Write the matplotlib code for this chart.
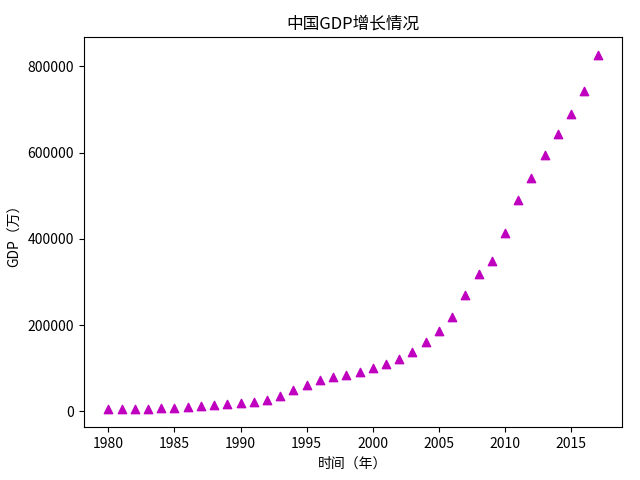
import matplotlib
matplotlib.use("Agg")
import matplotlib.pyplot as plt

plt.rcParams['font.family'] = ['Noto Sans CJK SC', 'DejaVu Sans']
plt.rcParams['axes.unicode_minus'] = False

years = list(range(1980, 2018))
gdp = [
    4587.6, 4935.8, 5373.4, 6020.9, 7278.5, 9098.9, 10376.2, 12174.6,
    15180.4, 17179.7, 18872.9, 22005.6, 27194.5, 35673.2, 48637.5, 61339.9,
    71813.6, 79715.0, 85195.5, 90564.4, 100280.1, 110863.1, 121717.4, 137422.0,
    161840.2, 187318.9, 219438.5, 270232.3, 319515.5, 349081.4, 413030.3,
    489300.6, 540367.4, 595244.4, 643974.0, 689052.1, 743585.5, 827121.7,
]

fig, ax = plt.subplots(figsize=(6.4, 4.8), dpi=100)
ax.scatter(years, gdp, marker="^", color="m")
ax.set_title("中国GDP增长情况")
ax.set_xlabel("时间（年）")
ax.set_ylabel("GDP（万）")

# match the tight layout of the original (narrower CJK font there)
fig.subplots_adjust(left=0.131, right=0.972, top=0.923, bottom=0.110)
fig.savefig("out.png", dpi=100)
